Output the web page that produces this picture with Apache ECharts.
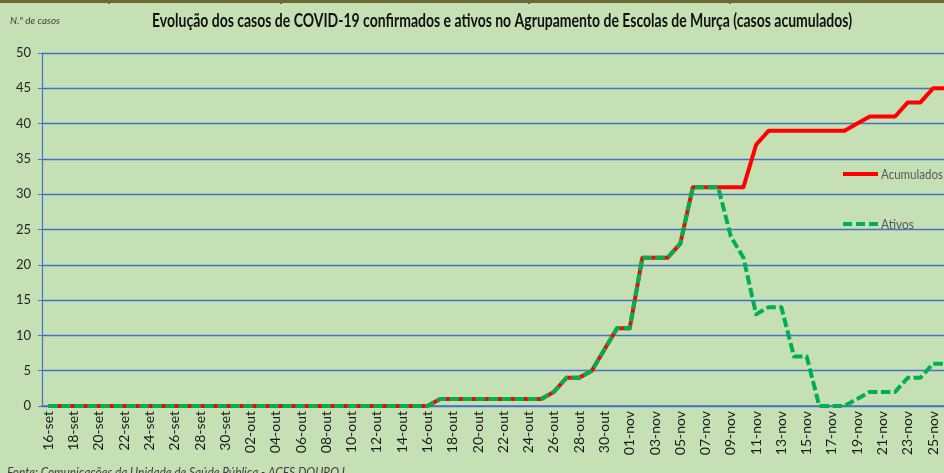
<!DOCTYPE html>
<html>
<head>
<meta charset="utf-8">
<script src="https://cdn.jsdelivr.net/npm/echarts@6/dist/echarts.min.js"></script>
<style>
html,body{margin:0;padding:0;background:#c5e0b4;overflow:hidden;}
#chart{width:952px;height:473px;}
</style>
</head>
<body>
<div id="chart"></div>
<script>
var categories = [
 '16-set','17-set','18-set','19-set','20-set','21-set','22-set','23-set','24-set','25-set','26-set','27-set','28-set','29-set','30-set',
 '01-out','02-out','03-out','04-out','05-out','06-out','07-out','08-out','09-out','10-out','11-out','12-out','13-out','14-out','15-out','16-out',
 '17-out','18-out','19-out','20-out','21-out','22-out','23-out','24-out','25-out','26-out','27-out','28-out','29-out','30-out','31-out',
 '01-nov','02-nov','03-nov','04-nov','05-nov','06-nov','07-nov','08-nov','09-nov','10-nov','11-nov','12-nov','13-nov','14-nov','15-nov',
 '16-nov','17-nov','18-nov','19-nov','20-nov','21-nov','22-nov','23-nov','24-nov','25-nov','26-nov'
];
var acumulados = [
 0,0,0,0,0,0,0,0,0,0,0,0,0,0,0,
 0,0,0,0,0,0,0,0,0,0,0,0,0,0,0,0,
 1,1,1,1,1,1,1,1,1,2,4,4,5,8,11,
 11,21,21,21,23,31,31,31,31,31,37,39,39,39,39,
 39,39,39,40,41,41,41,43,43,45,45
];
var ativos = [
 0,0,0,0,0,0,0,0,0,0,0,0,0,0,0,
 0,0,0,0,0,0,0,0,0,0,0,0,0,0,0,0,
 1,1,1,1,1,1,1,1,1,2,4,4,5,8,11,
 11,21,21,21,23,31,31,31,24,21,13,14,14,7,7,
 0,0,0,1,2,2,2,4,4,6,6
];
var seriesNames = ['Acumulados', 'Ativos'];
var yTicks = {min: 0, max: 50, interval: 5};
var titleText = 'Evolução dos casos de COVID-19 confirmados e ativos no Agrupamento de Escolas de Murça (casos acumulados)';
var yName = 'N.º de casos';
var sourceText = 'Fonte: Comunicações da Unidade de Saúde Pública - ACES DOURO I';

var FONT = 'Lato, "Open Sans", sans-serif';
var RED = '#ff0000', GREEN = '#00b050';

function fitScale(text, font, target) {
  var c = document.createElement('canvas').getContext('2d');
  c.font = font;
  return target / c.measureText(text).width;
}
var titleFont = 'bold 18px ' + FONT;
var footFont = 'italic 14px ' + FONT;
var yNameFont = 'italic 10px ' + FONT;
var legFont = '14px ' + FONT;

var chart = echarts.init(document.getElementById('chart'));
chart.setOption({
  backgroundColor: '#c5e0b4',
  animation: false,
  grid: {left: 42, right: 0, top: 53, bottom: 67, containLabel: false},
  xAxis: {
    type: 'category', data: categories, boundaryGap: true,
    axisLine: {lineStyle: {color: '#4472c4', width: 1.5}},
    axisTick: {interval: 1, length: 5, lineStyle: {color: '#4472c4', width: 1.2}},
    axisLabel: {interval: 1, rotate: 90, margin: 5, fontFamily: FONT, fontSize: 14, color: '#1a1a1a'}
  },
  yAxis: {
    type: 'value', min: yTicks.min, max: yTicks.max, interval: yTicks.interval,
    axisLine: {show: true, lineStyle: {color: '#4472c4', width: 1.2}},
    axisTick: {show: true, length: 4, lineStyle: {color: '#4472c4'}},
    splitLine: {lineStyle: {color: '#4472c4', width: 1.3}},
    axisLabel: {margin: 11, fontFamily: FONT, fontSize: 13, color: '#262626'}
  },
  series: [
    {name: seriesNames[0], type: 'line', data: acumulados, symbol: 'none', z: 3,
     itemStyle: {color: RED},
     lineStyle: {color: RED, width: 4, join: 'round'}},
    {name: seriesNames[1], type: 'line', data: ativos, symbol: 'none', z: 4,
     itemStyle: {color: GREEN},
     lineStyle: {color: GREEN, width: 4, type: [9.5, 3.5], cap: 'butt', join: 'round'}}
  ],
  graphic: [
    {type: 'rect', shape: {x: 0, y: 0, width: 952, height: 3}, style: {fill: '#6b6a32'}},
    {type: 'rect', shape: {x: 108, y: 0, width: 2, height: 4}, style: {fill: '#6b6a32'}},
    {type: 'rect', shape: {x: 280, y: 0, width: 2, height: 4}, style: {fill: '#6b6a32'}},
    {type: 'rect', shape: {x: 528, y: 0, width: 2, height: 4}, style: {fill: '#6b6a32'}},
    {type: 'rect', shape: {x: 729, y: 0, width: 2, height: 4}, style: {fill: '#6b6a32'}},
    {type: 'text', x: 152, y: 21, scaleX: fitScale(titleText, titleFont, 700),
     style: {text: titleText, font: titleFont, fill: '#111', textVerticalAlign: 'middle'}},
    {type: 'text', x: 10, y: 21, scaleX: fitScale(yName, yNameFont, 50),
     style: {text: yName, font: yNameFont, fill: '#404040', textVerticalAlign: 'middle'}},
    {type: 'text', x: 7, y: 472, scaleX: fitScale(sourceText, footFont, 338),
     style: {text: sourceText, font: footFont, fill: '#404040', textVerticalAlign: 'middle'}},
    {type: 'line', shape: {x1: 843, y1: 174, x2: 878, y2: 174}, style: {stroke: RED, lineWidth: 4}},
    {type: 'text', x: 881, y: 174, scaleX: fitScale(seriesNames[0], legFont, 62),
     style: {text: seriesNames[0], font: legFont, fill: '#595959', textVerticalAlign: 'middle'}},
    {type: 'line', shape: {x1: 843, y1: 224, x2: 878, y2: 224}, style: {stroke: GREEN, lineWidth: 4, lineDash: [9, 4]}},
    {type: 'text', x: 881, y: 224, scaleX: fitScale(seriesNames[1], legFont, 33),
     style: {text: seriesNames[1], font: legFont, fill: '#595959', textVerticalAlign: 'middle'}}
  ]
});
</script>
</body>
</html>
